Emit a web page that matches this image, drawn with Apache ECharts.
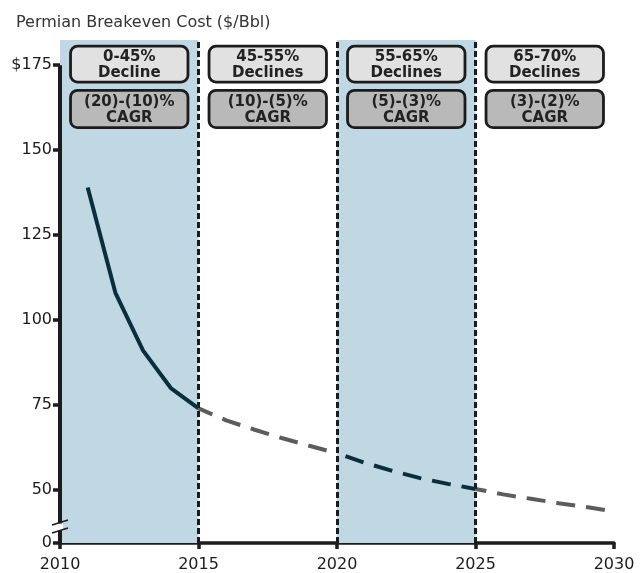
<!DOCTYPE html>
<html>
<head>
<meta charset="utf-8">
<script src="https://cdn.jsdelivr.net/npm/echarts@6/dist/echarts.min.js"></script>
<style>
  html, body { margin: 0; padding: 0; background: #fff; }
  #chart { width: 643px; height: 573px; }
</style>
</head>
<body>
<div id="chart"></div>
<script>
// Permian breakeven cost, historical (solid) and outlook (dashed), $/Bbl
const histYears = [2011, 2012, 2013, 2014, 2015];
const histCost = [139, 108, 91, 80, 74];

const outlookA_years = [2015, 2016, 2017, 2018, 2019, 2020];
const outlookA_cost = [74, 70.5, 67.8, 65.3, 63, 60.8];

const outlookB_years = [2020, 2021, 2022, 2023, 2024, 2025];
const outlookB_cost = [60.8, 58, 55.6, 53.5, 51.8, 50.3];

const outlookC_years = [2025, 2026, 2027, 2028, 2029, 2030];
const outlookC_cost = [50.3, 48.7, 47.4, 46.1, 45, 43.7];

// Period bands and their annotations
const periodStarts = [2010, 2015, 2020, 2025];
const periodEnds = [2015, 2020, 2025, 2030];
const shadedPeriods = [[2010, 2015], [2020, 2025]];
const dividerYears = [2015, 2020, 2025];
const declineLabels = ['0-45%\nDecline', '45-55%\nDeclines', '55-65%\nDeclines', '65-70%\nDeclines'];
const cagrLabels = ['(20)-(10)%\nCAGR', '(10)-(5)%\nCAGR', '(5)-(3)%\nCAGR', '(3)-(2)%\nCAGR'];

// Axis scale (broken y axis: bottom of axis stands for 0)
const xTicks = [2010, 2015, 2020, 2025, 2030];
const yBreakBase = 34.4;
const yTop = 182.4;
const yTicks = [yBreakBase, 50, 75, 100, 125, 150, 175];
const yTickLabels = ['0', '50', '75', '100', '125', '150', '$175'];

const FONT = '"DejaVu Sans", Verdana, sans-serif';
const INK = '#1c1c1c';
const DARK = '#0a2e3c';
const GREY = '#5c5c5c';
const BAND = '#c0d8e3';

const pairs = (xs, ys) => xs.map((x, i) => [x, ys[i]]);

const chart = echarts.init(document.getElementById('chart'), null, { renderer: 'canvas' });

const boxData = periodStarts.map((s, i) => [(s + periodEnds[i]) / 2, i]);

const option = {
  animation: false,
  backgroundColor: '#fff',
  title: {
    text: 'Permian Breakeven Cost ($/Bbl)',
    left: 11,
    top: 10,
    textStyle: { fontFamily: FONT, fontSize: 16, fontWeight: 'normal', color: '#333' }
  },
  grid: { left: 60, right: 29, top: 40, bottom: 30, outerBoundsMode: 'none' },
  xAxis: {
    type: 'value',
    min: 2010,
    max: 2030,
    interval: 5,
    splitLine: { show: false },
    axisLine: { show: true, lineStyle: { color: INK, width: 3.5 } },
    axisTick: { show: true, length: 6, lineStyle: { color: INK, width: 3.5 } },
    axisLabel: { fontFamily: FONT, fontSize: 16, color: INK, margin: 14, formatter: v => String(v) }
  },
  yAxis: {
    type: 'value',
    min: yBreakBase,
    max: yTop,
    splitLine: { show: false },
    axisLine: { show: false },
    axisTick: {
      show: true, length: 7, customValues: yTicks,
      lineStyle: { color: INK, width: 3.5 }
    },
    axisLabel: {
      fontFamily: FONT, fontSize: 16, color: INK, margin: 8,
      customValues: yTicks,
      formatter: v => {
        const i = yTicks.findIndex(t => Math.abs(t - v) < 1e-6);
        return i >= 0 ? yTickLabels[i] : '';
      }
    }
  },
  series: [
    {
      // shaded periods, period dividers and the y axis line
      type: 'line',
      data: [],
      silent: true,
      markArea: {
        silent: true,
        itemStyle: { color: BAND },
        data: shadedPeriods.map(p => [{ xAxis: p[0] }, { xAxis: p[1] }])
      },
      markLine: {
        silent: true,
        symbol: 'none',
        label: { show: false },
        data: [
          ...dividerYears.map(y => ({
            xAxis: y,
            lineStyle: { color: INK, width: 3, type: [6, 3] }
          })),
          [
            { coord: [2010, yBreakBase], lineStyle: { color: INK, width: 4, type: 'solid' } },
            { coord: [2010, 175] }
          ]
        ]
      },
      z: 1
    },
    {
      type: 'line',
      data: pairs(histYears, histCost),
      showSymbol: false,
      lineStyle: { color: DARK, width: 4, cap: 'butt', join: 'round' },
      z: 5
    },
    {
      type: 'line',
      data: pairs(outlookA_years, outlookA_cost),
      showSymbol: false,
      lineStyle: { color: GREY, width: 4, type: [19, 11], dashOffset: 4 },
      z: 4
    },
    {
      type: 'line',
      data: pairs(outlookB_years, outlookB_cost),
      showSymbol: false,
      lineStyle: { color: DARK, width: 4, type: [19, 11], dashOffset: 21 },
      z: 4
    },
    {
      type: 'line',
      data: pairs(outlookC_years, outlookC_cost),
      showSymbol: false,
      lineStyle: { color: GREY, width: 4, type: [19, 11], dashOffset: 8 },
      z: 4
    },
    {
      // annotation boxes for each period
      type: 'custom',
      data: boxData,
      silent: true,
      z: 6,
      renderItem: (params, api) => {
        const cx = api.value(0);
        const idx = api.value(1);
        const left = api.coord([cx - 2.12, 0])[0];
        const right = api.coord([cx + 2.12, 0])[0];
        const rows = [
          { top: 180.6, bottom: 170.0, fill: '#e1e1e1', text: declineLabels[idx] },
          { top: 167.6, bottom: 156.6, fill: '#b9b9b9', text: cagrLabels[idx] }
        ];
        const children = [];
        rows.forEach(r => {
          const y0 = api.coord([cx, r.top])[1];
          const y1 = api.coord([cx, r.bottom])[1];
          children.push({
            type: 'rect',
            shape: { x: left, y: y0, width: right - left, height: y1 - y0, r: 7 },
            style: { fill: r.fill, stroke: INK, lineWidth: 2.8 }
          });
          children.push({
            type: 'text',
            style: {
              text: r.text,
              x: (left + right) / 2,
              y: (y0 + y1) / 2 + 1,
              align: 'center',
              verticalAlign: 'middle',
              fontFamily: FONT,
              fontWeight: 'bold',
              fontSize: 15,
              lineHeight: 16,
              fill: '#222'
            }
          });
        });
        return { type: 'group', children };
      }
    }
  ]
};

chart.setOption(option);

// Break marks on the y axis just above its base
const breakValue = 39.1;
const p = chart.convertToPixel({ gridIndex: 0 }, [2010, breakValue]);
const bx = p[0], by = p[1];
chart.setOption({
  graphic: [
    { type: 'rect', shape: { x: bx - 3, y: by - 3.5, width: 6, height: 7 }, style: { fill: '#fff' }, z: 100 },
    { type: 'line', shape: { x1: bx - 8, y1: by - 2, x2: bx + 8, y2: by - 7 }, style: { stroke: INK, lineWidth: 1.5 }, z: 101 },
    { type: 'line', shape: { x1: bx - 8, y1: by + 6, x2: bx + 8, y2: by + 1 }, style: { stroke: INK, lineWidth: 1.5 }, z: 101 }
  ]
});
</script>
</body>
</html>
